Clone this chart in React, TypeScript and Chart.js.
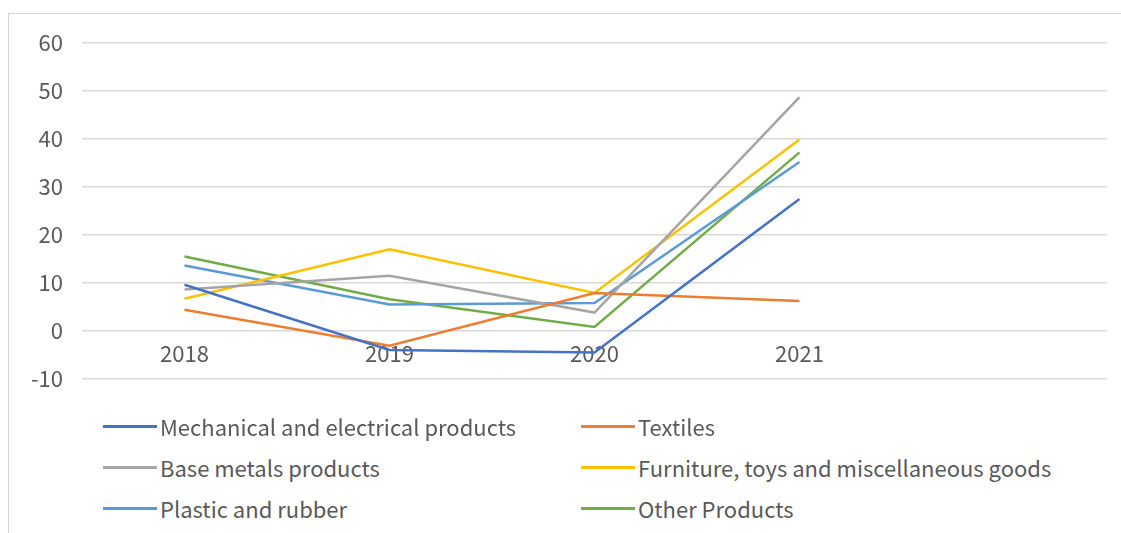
import React, { useEffect, useRef } from "react";
import { Chart, registerables } from "chart.js";

Chart.register(...registerables);

const categories = ["2018", "2019", "2020", "2021", ""];
const yTicks = [-10, 0, 10, 20, 30, 40, 50, 60];

const mechanical = [9.6, -4.0, -4.5, 27.5];
const textiles = [4.4, -3.1, 7.9, 6.2];
const baseMetals = [8.6, 11.5, 3.8, 48.7];
const furniture = [6.7, 17.0, 7.9, 39.9];
const plastic = [13.6, 5.5, 5.8, 35.2];
const other = [15.5, 6.6, 0.8, 37.2];

const seriesNames = [
  "Mechanical and electrical products",
  "Textiles",
  "Base metals products",
  "Furniture, toys and miscellaneous goods",
  "Plastic and rubber",
  "Other Products",
];
const seriesColors = ["#4472C4", "#ED7D31", "#A5A5A5", "#FFC000", "#5B9BD5", "#70AD47"];
const seriesData = [mechanical, textiles, baseMetals, furniture, plastic, other];

const FONT = '"Noto Sans CJK SC", "Noto Sans", sans-serif';
const TEXT = "#595959";

export default function App() {
  const ref = useRef<HTMLCanvasElement>(null);

  useEffect(() => {
    if (!ref.current) return;
    const chart = new Chart(ref.current, {
      type: "line",
      data: {
        labels: categories,
        datasets: seriesData.map((d, i) => ({
          label: seriesNames[i],
          data: d,
          borderColor: seriesColors[i],
          backgroundColor: seriesColors[i],
          borderWidth: 2.5,
          pointRadius: 0,
          tension: 0,
          fill: false,
        })),
      },
      options: {
        responsive: false,
        animation: false,
        layout: { padding: { left: 0, right: 14, top: 43, bottom: 0 } },
        plugins: { legend: { display: false }, tooltip: { enabled: false } },
        scales: {
          x: {
            type: "category",
            offset: true,
            position: { y: 0 } as any,
            grid: { display: false, drawTicks: false },
            border: { display: false },
            ticks: {
              color: TEXT,
              font: { family: FONT, size: 22 },
              padding: 10,
              maxRotation: 0,
              autoSkip: false,
            },
          },
          y: {
            min: -10,
            max: 60,
            afterBuildTicks: (s: any) => {
              s.ticks = yTicks.map((v) => ({ value: v }));
            },
            afterFit: (s: any) => {
              s.width = 82;
            },
            grid: { color: "#D9D9D9", lineWidth: 1.5, drawTicks: false },
            border: { display: false },
            ticks: {
              color: TEXT,
              font: { family: FONT, size: 22 },
              padding: 19,
            },
          },
        },
      },
    });
    return () => chart.destroy();
  }, []);

  const legendPos = [
    [103, 428],
    [581, 428],
    [103, 469],
    [581, 469],
    [103, 510],
    [581, 510],
  ];

  return (
    <div style={{ position: "fixed", left: 0, top: 0, width: 1121, height: 533, background: "#fff", overflow: "hidden" }}>
      <div
        style={{
          position: "absolute",
          left: 8,
          top: 13,
          width: 1121,
          height: 540,
          borderTop: "1px solid #D4D4D4",
          borderLeft: "1px solid #D4D4D4",
        }}
      />
      <canvas ref={ref} width={1121} height={411} style={{ position: "absolute", left: 0, top: 0 }} />
      {seriesNames.map((n, i) => (
        <div
          key={n}
          style={{
            position: "absolute",
            left: legendPos[i][0],
            top: legendPos[i][1] - 17,
            height: 30,
            display: "flex",
            alignItems: "center",
            fontFamily: FONT,
            fontSize: 22,
            color: TEXT,
            whiteSpace: "nowrap",
          }}
        >
          <span style={{ display: "inline-block", width: 54, height: 3, background: seriesColors[i], marginRight: 3 }} />
          <span>{n}</span>
        </div>
      ))}
    </div>
  );
}
